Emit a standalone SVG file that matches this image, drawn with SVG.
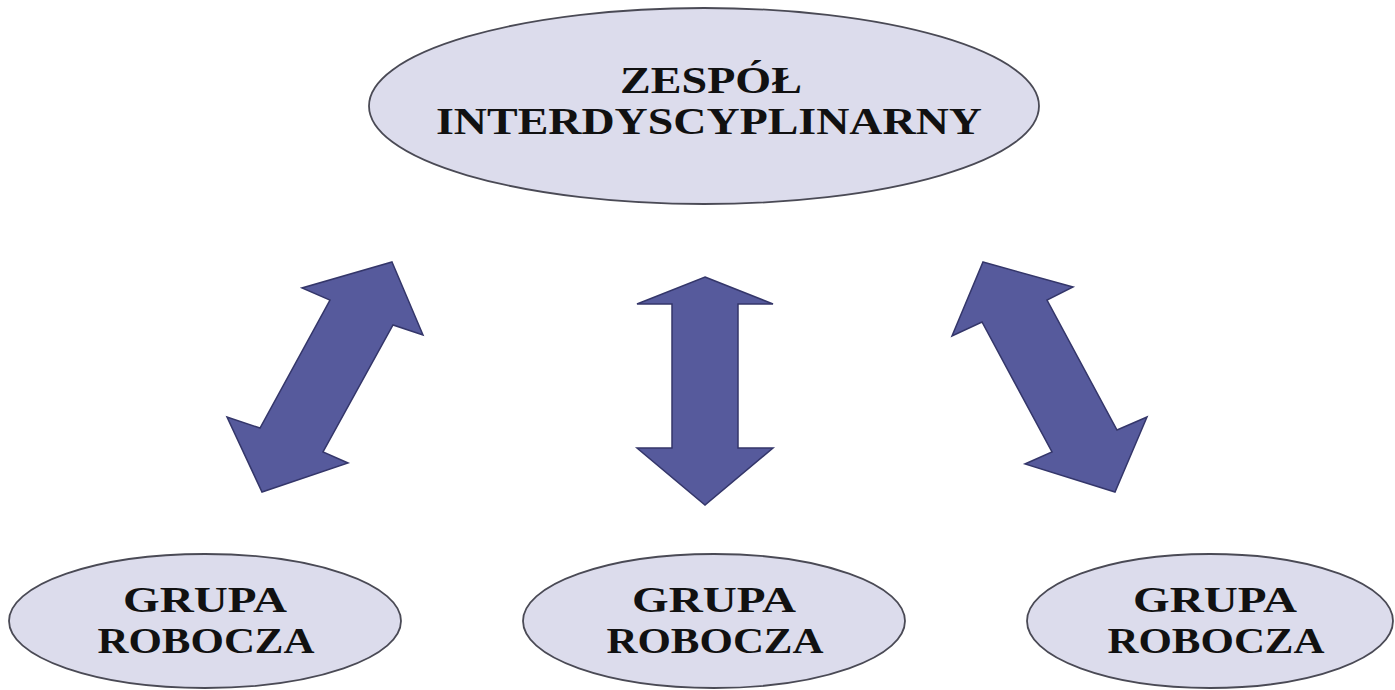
<svg xmlns="http://www.w3.org/2000/svg" width="1395" height="690" viewBox="0 0 1395 690">
<style>
.node{fill:#dcdcec;stroke:#4a4a55;stroke-width:1.8}
.lbl{font-family:"Liberation Serif","Times New Roman",serif;font-weight:bold;fill:#111;text-anchor:middle}
.arrow{fill:#565a9c;stroke:#34366a;stroke-width:1.5;stroke-linejoin:miter}
</style>
<rect width="1395" height="690" fill="#ffffff"/>
<g id="zespol">
<ellipse class="node" cx="704" cy="106" rx="335" ry="98"/>
<text class="lbl" x="711" y="93" font-size="37" textLength="182" lengthAdjust="spacingAndGlyphs">ZESPÓŁ</text>
<text class="lbl" x="709" y="134" font-size="37" textLength="546" lengthAdjust="spacingAndGlyphs">INTERDYSCYPLINARNY</text>
</g>
<g id="grupa1">
<ellipse class="node" cx="205" cy="621" rx="196" ry="67"/>
<text class="lbl" x="205" y="612" font-size="36" textLength="164" lengthAdjust="spacingAndGlyphs">GRUPA</text>
<text class="lbl" x="206" y="653" font-size="36" textLength="217" lengthAdjust="spacingAndGlyphs">ROBOCZA</text>
</g>
<g id="grupa2">
<ellipse class="node" cx="714" cy="621" rx="191" ry="67"/>
<text class="lbl" x="714" y="612" font-size="36" textLength="164" lengthAdjust="spacingAndGlyphs">GRUPA</text>
<text class="lbl" x="715" y="653" font-size="36" textLength="217" lengthAdjust="spacingAndGlyphs">ROBOCZA</text>
</g>
<g id="grupa3">
<ellipse class="node" cx="1210" cy="621" rx="183" ry="67"/>
<text class="lbl" x="1215" y="612" font-size="36" textLength="164" lengthAdjust="spacingAndGlyphs">GRUPA</text>
<text class="lbl" x="1216" y="653" font-size="36" textLength="217" lengthAdjust="spacingAndGlyphs">ROBOCZA</text>
</g>
<g id="connectors">
<polygon class="arrow" points="392,262 423,335 393,325 323,452 348,463 262,492 227,417 260,428 330,300 302,288"/>
<polygon class="arrow" points="705,277 773,304 738,304 738,448 773,448 705,505 637,448 672,448 672,304 637,304"/>
<polygon class="arrow" points="983,262 1073,287 1047,300 1117,430 1147,417 1115,492 1025,464 1052,452 982,322 952,336"/>
</g>
</svg>
